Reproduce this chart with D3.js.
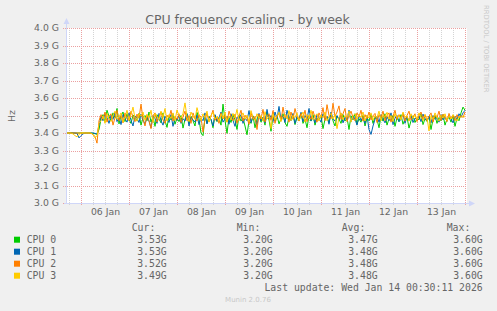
<!DOCTYPE html>
<html>
<head>
<meta charset="utf-8">
<script src="https://cdn.jsdelivr.net/npm/d3@7"></script>
<style>
html,body{margin:0;padding:0;background:#f0f0f0;}
svg{display:block;}
text{font-family:"DejaVu Sans",sans-serif;fill:#666;}
.mono{font-family:"DejaVu Sans Mono",monospace;font-size:9.8px;}
</style>
</head>
<body>
<svg id="chart" width="497" height="311"></svg>
<script>
// ---------- data (MHz, hourly samples from Jan 5 17:00 UTC) ----------
const seriesNames = ["CPU 0", "CPU 1", "CPU 2", "CPU 3"];
const seriesColors = ["#00cc00", "#0066b3", "#ff8000", "#ffcc00"];
const startTime = "2026-01-05T17:00:00Z";
const endTime = "2026-01-14T01:00:00Z";

const cpu0 = [3400,3400,3402,3400,3400,3400,3400,3400,3400,3400,3400,3400,3400,3398,3396,
3392,3420,
3480,3505,3462,3530,3495,3470,3515,3488,3540,3452,
3498,3520,3465,3510,3478,3455,3502,3490,3468,3512,
3445,3488,3500,3470,3520,3462,3492,3438,3505,3480,
3458,3515,3470,3432,3498,3475,3510,3450,3485,3465,
3500,3428,3478,3510,3455,3495,3470,3440,3518,3482,
3400,3385,3492,3455,3495,3478,3430,3502,3465,3488,
3445,3565,3472,3398,3490,3460,3505,3475,3420,3500,
3468,3485,3440,3390,3470,3455,3498,3430,3480,3505,
3462,3490,3445,3520,3475,3410,3495,3468,3500,3452,
3482,3510,3460,3438,3492,3475,3505,3448,3488,3470,
3515,3455,3480,3430,3498,3468,3505,3445,3485,3472,
3500,3425,3478,3492,3458,3512,3470,3440,3495,3480,
3455,3505,3468,3488,3420,3498,3475,3510,3450,3482,
3462,3500,3440,3485,3470,3508,3455,3492,3478,3430,
3495,3468,3510,3445,3482,3472,3500,3438,3488,3465,
3505,3450,3480,3492,3428,3470,3498,3460,3485,3475,
3510,3448,3482,3466,3495,3420,3478,3500,3455,3488,
3470,3505,3445,3480,3492,3462,3500,3438,3485,3470,
3515,3548,3530];

const cpu1 = [3400,3402,3400,3400,3400,3398,3372,3385,3395,3400,3400,3400,3400,3400,3398,
3395,3440,
3495,3470,3512,3488,3455,3502,3478,3520,3465,3490,
3448,3505,3480,3462,3515,3472,3440,3498,3485,3460,
3508,3475,3450,3492,3468,3430,3500,3482,3455,3512,
3470,3445,3495,3478,3460,3505,3438,3488,3472,3500,
3455,3482,3468,3510,3440,3490,3475,3462,3502,3448,
3485,3470,3515,3452,3492,3478,3440,3505,3468,3488,
3520,3462,3480,3495,3450,3510,3472,3438,3490,3478,
3505,3455,3485,3470,3528,3460,3495,3480,3445,3512,
3470,3490,3458,3535,3478,3500,3465,3520,3482,3552,
3475,3498,3460,3530,3488,3470,3512,3455,3495,3480,
3518,3465,3500,3478,3540,3470,3492,3458,3505,3485,
3462,3510,3478,3495,3450,3520,3482,3468,3500,3475,
3512,3458,3490,3475,3530,3465,3498,3480,3445,3505,
3472,3488,3455,3500,3420,3392,3440,3478,3495,3462,
3505,3480,3458,3492,3470,3515,3448,3485,3500,3465,
3478,3510,3455,3490,3472,3502,3460,3485,3475,3498,
3465,3508,3482,3470,3495,3458,3500,3478,3488,3462,
3505,3475,3490,3468,3500,3482,3458,3495,3478,3510,
3490,3515,3530];

const cpu2 = [3400,3400,3400,3400,3400,3400,3400,3400,3400,3400,3400,3400,3398,3392,3380,
3342,3470,
3505,3480,3520,3462,3495,3510,3445,3488,3530,3470,
3500,3458,3515,3482,3470,3525,3492,3465,3508,3485,
3565,3478,3440,3505,3470,3425,3498,3515,3462,3490,
3520,3475,3455,3502,3488,3530,3468,3495,3478,3510,
3460,3492,3525,3470,3500,3455,3515,3482,3468,3505,
3490,3405,3478,3512,3465,3498,3530,3472,3488,3455,
3515,3480,3500,3462,3525,3490,3470,3508,3455,3495,
3530,3468,3502,3485,3450,3515,3478,3495,3420,3508,
3480,3535,3462,3498,3510,3472,3528,3455,3492,3515,
3470,3548,3488,3500,3462,3520,3478,3540,3495,3468,
3512,3485,3530,3465,3500,3478,3525,3490,3462,3515,
3488,3545,3470,3562,3500,3482,3570,3495,3520,3555,
3478,3510,3540,3465,3500,3525,3488,3470,3515,3492,
3530,3468,3505,3482,3520,3475,3498,3512,3460,3505,
3488,3525,3470,3500,3515,3462,3495,3530,3478,3505,
3485,3512,3468,3500,3525,3475,3492,3510,3465,3498,
3520,3480,3505,3470,3495,3515,3462,3500,3488,3525,
3472,3508,3490,3465,3512,3480,3498,3470,3505,3485,
3500,3488,3520];

const cpu3 = [3400,3400,3400,3395,3385,3378,3392,3400,3400,3400,3400,3400,3400,3390,3372,
3385,3455,
3470,3498,3455,3512,3480,3465,3500,3525,3478,3492,
3515,3462,3490,3530,3475,3505,3548,3482,3468,3510,
3495,3520,3472,3505,3488,3530,3460,3512,3495,3478,
3525,3490,3540,3468,3505,3482,3515,3470,3532,3498,
3485,3512,3572,3490,3465,3520,3495,3478,3545,3502,
3470,3510,3488,3525,3462,3500,3518,3480,3495,3470,
3508,3485,3520,3462,3498,3475,3512,3488,3535,3470,
3495,3515,3478,3502,3465,3528,3490,3472,3510,3485,
3500,3468,3522,3480,3495,3425,3510,3475,3498,3518,
3465,3492,3505,3480,3528,3470,3500,3488,3515,3472,
3495,3520,3462,3505,3482,3530,3475,3498,3510,3468,
3502,3488,3520,3470,3495,3512,3480,3505,3425,3490,
3515,3475,3500,3488,3525,3462,3498,3510,3478,3505,
3490,3520,3468,3502,3485,3515,3472,3500,3488,3525,
3470,3505,3492,3518,3478,3500,3465,3512,3488,3502,
3475,3520,3490,3498,3468,3510,3485,3502,3478,3515,
3492,3470,3505,3488,3412,3500,3478,3515,3490,3468,
3502,3485,3510,3472,3498,3480,3505,3490,3468,3495,
3488,3500,3490];

const seriesData = [cpu0, cpu1, cpu2, cpu3];
const yTicks = [3.0e9,3.1e9,3.2e9,3.3e9,3.4e9,3.5e9,3.6e9,3.7e9,3.8e9,3.9e9,4.0e9];
const dayLabels = ["06 Jan","07 Jan","08 Jan","09 Jan","10 Jan","11 Jan","12 Jan","13 Jan"];
const curVals = ["3.53G","3.53G","3.52G","3.49G"];
const minVals = ["3.20G","3.20G","3.20G","3.20G"];
const avgVals = ["3.47G","3.48G","3.48G","3.48G"];
const maxVals = ["3.60G","3.60G","3.60G","3.60G"];

// ---------- layout ----------
const L = 67, R = 467, T = 28, B = 203;
const svg = d3.select("#chart");

const x = d3.scaleUtc().domain([new Date(startTime), new Date(endTime)]).range([L, R]);
const y = d3.scaleLinear().domain([3.0e9, 4.0e9]).range([B, T]);

// canvas
svg.append("rect").attr("x", L).attr("y", T).attr("width", R - L).attr("height", B - T).attr("fill", "#fff");

// minor vertical grid (6h)
const minorTimes = d3.utcHour.every(6).range(new Date(startTime), new Date(endTime))
  .filter(d => d.getUTCHours() !== 0);
const gridG = svg.append("g");
minorTimes.forEach(d => {
  const xx = Math.round(x(d)) + 0.5;
  gridG.append("line").attr("x1", xx).attr("x2", xx).attr("y1", T).attr("y2", B + 3)
    .attr("stroke", "#d4d4d4").attr("stroke-dasharray", "1,1");
});
// major vertical grid (days)
const dayTimes = d3.utcDay.range(new Date(startTime), new Date(endTime));
dayTimes.forEach(d => {
  const xx = Math.round(x(d)) + 0.5;
  gridG.append("line").attr("x1", xx).attr("x2", xx).attr("y1", T).attr("y2", B + 3)
    .attr("stroke", "#eba0a0").attr("stroke-dasharray", "1,1");
});
// horizontal grid
yTicks.forEach(v => {
  const yy = Math.round(y(v)) + 0.5;
  gridG.append("line").attr("x1", L - 4).attr("x2", R).attr("y1", yy).attr("y2", yy)
    .attr("stroke", "#eba0a0").attr("stroke-dasharray", "1,1");
});

// y labels
const yAxis = d3.axisLeft(y).tickValues(yTicks).tickSize(0).tickPadding(0)
  .tickFormat(v => d3.format(".1f")(v / 1e9) + " G");
const ya = svg.append("g").attr("transform", `translate(${L - 8},0)`).call(yAxis);
ya.select(".domain").remove();
ya.selectAll("text").attr("font-size", "9.3px").attr("font-family", "DejaVu Sans").attr("fill", "#666");

// x labels at noon
const xAxis = d3.axisBottom(x)
  .tickValues(dayLabels.map((s, i) => d3.utcHour.offset(dayTimes[i], 12)))
  .tickSize(0).tickPadding(0).tickFormat((d, i) => dayLabels[i]);
const xa = svg.append("g").attr("transform", `translate(0,${B + 5})`).call(xAxis);
xa.select(".domain").remove();
xa.selectAll("text").attr("font-size", "9.3px").attr("font-family", "DejaVu Sans").attr("fill", "#666");

// series
const times = cpu0.map((_, i) => d3.utcHour.offset(new Date(startTime), i));
const line = d3.line().x((d, i) => x(times[i])).y(d => y(d * 1e6));
seriesData.forEach((s, k) => {
  svg.append("path").datum(s).attr("d", line).attr("fill", "none")
    .attr("stroke", seriesColors[k]).attr("stroke-width", 1);
});

// axes with arrows
const axisCol = "#cfd6f8";
svg.append("line").attr("x1", L - 0.5).attr("x2", L - 0.5).attr("y1", B + 1).attr("y2", T - 6).attr("stroke", axisCol);
svg.append("line").attr("x1", L - 3).attr("x2", R + 3).attr("y1", B + 0.5).attr("y2", B + 0.5).attr("stroke", axisCol);
svg.append("path").attr("d", `M${L - 3.5},${T - 4} L${L - 0.5},${T - 10} L${L + 2.5},${T - 4} Z`).attr("fill", axisCol);
svg.append("path").attr("d", `M${R + 2},${B - 2.5} L${R + 8},${B + 0.5} L${R + 2},${B + 3.5} Z`).attr("fill", axisCol);

// title
svg.append("text").attr("x", 247.5).attr("y", 24).attr("text-anchor", "middle")
  .attr("font-size", "12.5px").text("CPU frequency scaling - by week");
// y unit
svg.append("text").attr("transform", "translate(15,116) rotate(-90)").attr("text-anchor", "middle")
  .attr("font-size", "9.3px").text("Hz");
// watermark
svg.append("text").attr("transform", "translate(483.5,5) rotate(90)").attr("font-size", "6.8px")
  .style("fill", "#c8c8c8").text("RRDTOOL / TOBI OETIKER");

// legend
const hdr = [["Cur:", 131.7], ["Min:", 236.7], ["Avg:", 341.7], ["Max:", 446.7]];
hdr.forEach(h => svg.append("text").attr("class", "mono").attr("x", h[1]).attr("y", 230.7).text(h[0]));
const colEnds = [166.7, 272.7, 377.7, 482.7];
const cols = [curVals, minVals, avgVals, maxVals];
seriesNames.forEach((n, k) => {
  const by = 243.2 + k * 12;
  svg.append("rect").attr("x", 14).attr("y", by - 6.5).attr("width", 6).attr("height", 6).attr("fill", seriesColors[k]);
  svg.append("text").attr("class", "mono").attr("x", 26.7).attr("y", by).text(n);
  cols.forEach((c, j) => svg.append("text").attr("class", "mono").attr("x", colEnds[j]).attr("y", by)
    .attr("text-anchor", "end").text(c[k]));
});
svg.append("text").attr("class", "mono").attr("x", 482.7).attr("y", 291.3).attr("text-anchor", "end")
  .text("Last update: Wed Jan 14 00:30:11 2026");
svg.append("text").attr("x", 248).attr("y", 302).attr("text-anchor", "middle").attr("font-size", "7px")
  .style("fill", "#c8c8c8").text("Munin 2.0.76");
</script>
</body>
</html>
